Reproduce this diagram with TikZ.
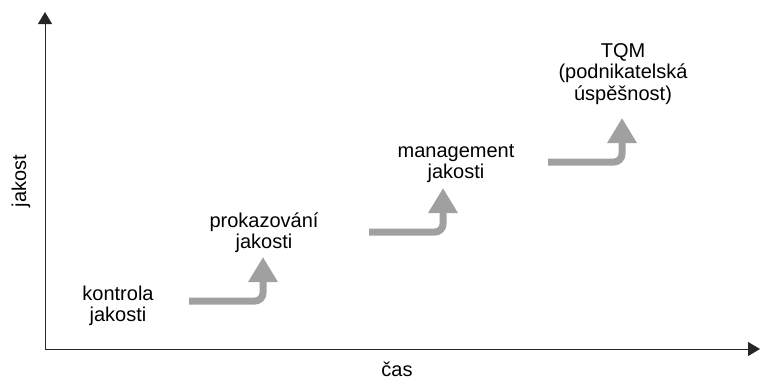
\documentclass[tikz,border=0pt]{standalone}
\usepackage{fontspec}
\setmainfont{Liberation Sans}
\usetikzlibrary{arrows.meta}
\definecolor{arrowgray}{RGB}{160,160,160}
\begin{document}
\begin{tikzpicture}[x=1pt,y=-1pt,
  lbl/.style={anchor=base,inner sep=0pt,font=\fontsize{20}{21.5}\selectfont},
  axis/.style={line width=1pt,draw=black!85,-{Triangle[length=12pt,width=14pt]}},
  steparrow/.style={line width=7pt,draw=arrowgray,rounded corners=8pt,-{Triangle[length=25pt,width=28pt]}}]
\useasboundingbox (0,0) rectangle (760,383);
% axes
\coordinate (O) at (45,349);
\coordinate (Ytop) at (45,12);
\coordinate (Xend) at (760,349);
\draw[axis] (O) -- (Ytop);
\draw[axis] (O) -- (Xend);
% labels
\node[lbl] (cas) at (397,376) {čas};
\node[lbl,rotate=90] (jakost) at (26,181) {jakost};
\node[lbl] (k1) at (118,300) {\begin{tabular}[t]{@{}c@{}}kontrola\\jakosti\end{tabular}};
\node[lbl] (k2) at (264,227) {\begin{tabular}[t]{@{}c@{}}prokazování\\jakosti\end{tabular}};
\node[lbl] (k3) at (456,157) {\begin{tabular}[t]{@{}c@{}}management\\jakosti\end{tabular}};
\node[lbl] (k4) at (623,57) {\begin{tabular}[t]{@{}c@{}}TQM\\(podnikatelská\\úspěšnost)\end{tabular}};
% step arrows
\coordinate (a1s) at (189,301); \coordinate (a1e) at (263,257);
\coordinate (a2s) at (369,232); \coordinate (a2e) at (443,188);
\coordinate (a3s) at (548,162); \coordinate (a3e) at (622,118);
\draw[steparrow] (a1s) -| (a1e);
\draw[steparrow] (a2s) -| (a2e);
\draw[steparrow] (a3s) -| (a3e);
\end{tikzpicture}
\end{document}
